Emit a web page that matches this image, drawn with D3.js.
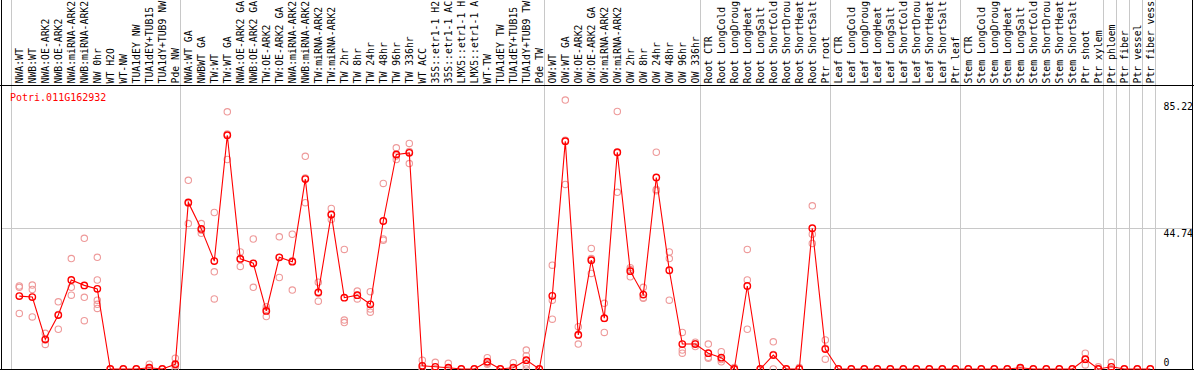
<!DOCTYPE html>
<html><head><meta charset="utf-8">
<script src="https://cdn.jsdelivr.net/npm/d3@7"></script>
<style>body{margin:0;background:#fff;} svg{display:block;}</style>
</head><body>
<script>
const geneName = "Potri.011G162932";
const categories = [
"NWA:WT","NWB:WT","NWA:OE-ARK2","NWB:OE-ARK2","NWA:miRNA-ARK2","NWB:miRNA-ARK2","NW 0hr","WT H2O","WT-NW","TUA1dEY NW","TUA1dEY+TUB15 NW","TUA1dY+TUB9 NW","Pde NW",
"NWA:WT GA","NWBWT GA","TW:WT","TW:WT GA","NWA:OE-ARK2 GA","NWB:OE-ARK2 GA","TW:OE-ARK2","TW:OE-ARK2 GA","NWA:miRNA-ARK2 GA","NWB:miRNA-ARK2 GA","TW:miRNA-ARK2","TW:miRNA-ARK2",
"TW 2hr","TW 8hr","TW 24hr","TW 48hr","TW 96hr","TW 336hr","WT ACC","35S::etr1-1 H2O","35S::etr1-1 ACC","LMX5::etr1-1 H2O","LMX5::etr1-1 ACC","WT-TW","TUA1dEY TW","TUA1dEY+TUB15 TW","TUA1dY+TUB9 TW","Pde TW",
"OW:WT","OW:WT GA","OW:OE-ARK2","OW:OE-ARK2 GA","OW:miRNA-ARK2","OW:miRNA-ARK2","OW 2hr","OW 8hr","OW 24hr","OW 48hr","OW 96hr","OW 336hr",
"Root CTR","Root LongCold","Root LongDrought","Root LongHeat","Root LongSalt","Root ShortCold","Root ShortDrought","Root ShortHeat","Root ShortSalt","Ptr root",
"Leaf CTR","Leaf LongCold","Leaf LongDrought","Leaf LongHeat","Leaf LongSalt","Leaf ShortCold","Leaf ShortDrought","Leaf ShortHeat","Leaf ShortSalt","Ptr leaf",
"Stem CTR","Stem LongCold","Stem LongDrought","Stem LongHeat","Stem LongSalt","Stem ShortCold","Stem ShortDrought","Stem ShortHeat","Stem ShortSalt","Ptr shoot","Ptr xylem",
"Ptr phloem","Ptr fiber","Ptr vessel","Ptr fiber vessel"
];
const means = [
23.1,22.8,9.4,17.1,28.2,26.5,25.4,0,0,0,0.4,0,1.5,
52.8,44.4,34.2,74.1,34.9,33.5,18.4,35.4,34.0,60.2,24.3,49.0,
22.6,23.4,20.5,46.9,68.0,68.5,1.0,0.7,0.4,0,0,2.3,0,0.4,2.8,0,
23.2,72.2,10.8,34.5,16.1,68.7,31.0,23.6,60.7,31.3,7.9,7.9,
5.0,3.6,0,26.3,0,4.4,0,0,44.6,6.3,
0,0,0,0,0,0,0,0,0,0,
0,0,0,0,0.4,0,0,0,0,3.1,0,
0.7,0,0,0
];
const replicates = [
[26.3,25.9,17.6],[26.6,25.2,16.5],[11.3,9.2,7.8],[21.3,17.3,12.6],[35.0,25.9,23.4],[41.4,22.7,15.3],[35.4,28.2,21.8,20.5,19.2],[0],[0],[0],[1.5,0,0],[0],[3.4,1.0,0],
[59.8,52.5,46.1],[46.1,44.0,43.0],[49.6,30.8,22.2],[81.5,74.5,66.4],[37.1,35.0,32.5],[41.2,33.4,25.9],[19.7,18.9,16.6],[41.9,35.3,29.0],[42.7,34.3,25.0],[67.4,60.5,52.7],[27.5,24.0,21.5],[50.9,48.8,47.4],
[37.9,15.5,14.7],[24.7,23.4,22.2],[24.5,19.0,18.0],[58.8,40.8,41.2],[70.1,67.5,66.4],[71.5,68.9,65.1],[2.8,0.3,0],[2.1,0,0],[1.8,0,0],[0],[0],[3.6,1.8,1.5],[0],[2.0,0,0],[6.0,4.2,1.3,0],[0],
[32.9,21.8,15.8],[85.22,72.5,58.5],[13.4,11.0,7.9],[38.2,35.0,30.3],[20.8,16.0,11.6],[81.6,68.5,56.0],[32.1,31.5,29.2],[25.9,22.4,22.6],[68.7,56.9,56.5],[37.1,35.0,21.8],[11.6,6.0,5.0],[7.1,8.5,8.0],
[7.9,3.4,3.7],[5.5,2.3,3.0],[0.5,0,0],[37.9,28.2,12.6],[0],[8.6,4.6,0],[0],[0.5,0,0],[51.7,42.7,39.8],[9.2,6.6,3.1],
[0],[0],[0],[0],[0],[0],[0],[0],[0],[0],
[0],[0],[0],[0],[0.4,0,0],[0],[0],[0],[0],[5.0,3.0,1.3],[0.7,0,0],
[2.1,0,0],[0],[0],[0]
];
const groupStarts = [0,13,41,53,63,73,84,85,86,87,88];
const yTicks = [85.22,44.74,0];
const maxLabelChars = 14;

const W = 1194, H = 370;
const svg = d3.select("body").append("svg").attr("width", W).attr("height", H)
  .style("font-family", "'DejaVu Sans Mono', monospace").style("font-size", "9.8px");

const x = d3.scaleBand().domain(d3.range(categories.length)).range([10.9, 10.9 + 13 * categories.length]);
const cx = i => x(i) + 8.4;
const edge = i => (i < categories.length ? x(i) : x(categories.length - 1) + x.bandwidth());
const y = d3.scaleLinear().domain([0, 85.22]).range([369, 100.1]);

// vertical group grid lines
svg.append("g").selectAll("line").data(groupStarts).join("line")
  .attr("x1", d => Math.round(edge(d)) + 0.5).attr("x2", d => Math.round(edge(d)) + 0.5)
  .attr("y1", 0).attr("y2", H).attr("stroke", "#c8c8c8").attr("stroke-width", 1);

// horizontal grid line (middle tick)
svg.append("g").selectAll("line").data(yTicks.filter(v => v > 0 && v < 85)).join("line")
  .attr("x1", 1).attr("x2", 1192).attr("y1", d => Math.round(y(d)) + 0.5).attr("y2", d => Math.round(y(d)) + 0.5)
  .attr("stroke", "#c8c8c8");

// header labels (the header only has room for 14 characters)
svg.append("g").selectAll("text").data(categories).join("text")
  .attr("transform", (d, i) => `translate(${cx(i) + 3.6},83.5) rotate(-90)`)
  .attr("fill", "#000").text(d => d.slice(0, maxLabelChars).trimEnd());

// borders
const border = svg.append("g").attr("stroke", "#000").attr("stroke-width", 1);
border.append("line").attr("x1", 0).attr("x2", W).attr("y1", 85.5).attr("y2", 85.5);
border.append("line").attr("x1", 1.5).attr("x2", 1.5).attr("y1", 0).attr("y2", H);
border.append("line").attr("x1", 1192.5).attr("x2", 1192.5).attr("y1", 0).attr("y2", H);
border.append("line").attr("x1", 0).attr("x2", W).attr("y1", 369.5).attr("y2", 369.5);

// title
svg.append("text").attr("x", 10).attr("y", 100.5).attr("fill", "#ff0000").style("font-size", "10px").text(geneName);

// y labels
svg.append("g").selectAll("text").data(yTicks).join("text")
  .attr("x", 1163.5).attr("y", d => Math.min(y(d) + 9.5, 366)).attr("fill", "#000")
  .text(d => d3.format("")(d));

// replicates
const repPts = replicates.flatMap((arr, i) => arr.map(v => ({i, v})));
svg.append("g").selectAll("circle").data(repPts).join("circle")
  .attr("cx", d => cx(d.i)).attr("cy", d => y(d.v)).attr("r", 3.2)
  .attr("fill", "none").attr("stroke", "#ee9a9a").attr("stroke-width", 1.1);

// mean line
svg.append("path").datum(means)
  .attr("d", d3.line().x((d, i) => cx(i)).y(d => y(d)))
  .attr("fill", "none").attr("stroke", "#ff0000").attr("stroke-width", 1.1);

// mean circles
svg.append("g").selectAll("circle").data(means).join("circle")
  .attr("cx", (d, i) => cx(i)).attr("cy", d => y(d)).attr("r", 3.2)
  .attr("fill", "none").attr("stroke", "#ff0000").attr("stroke-width", 1.4);
</script>
</body></html>
